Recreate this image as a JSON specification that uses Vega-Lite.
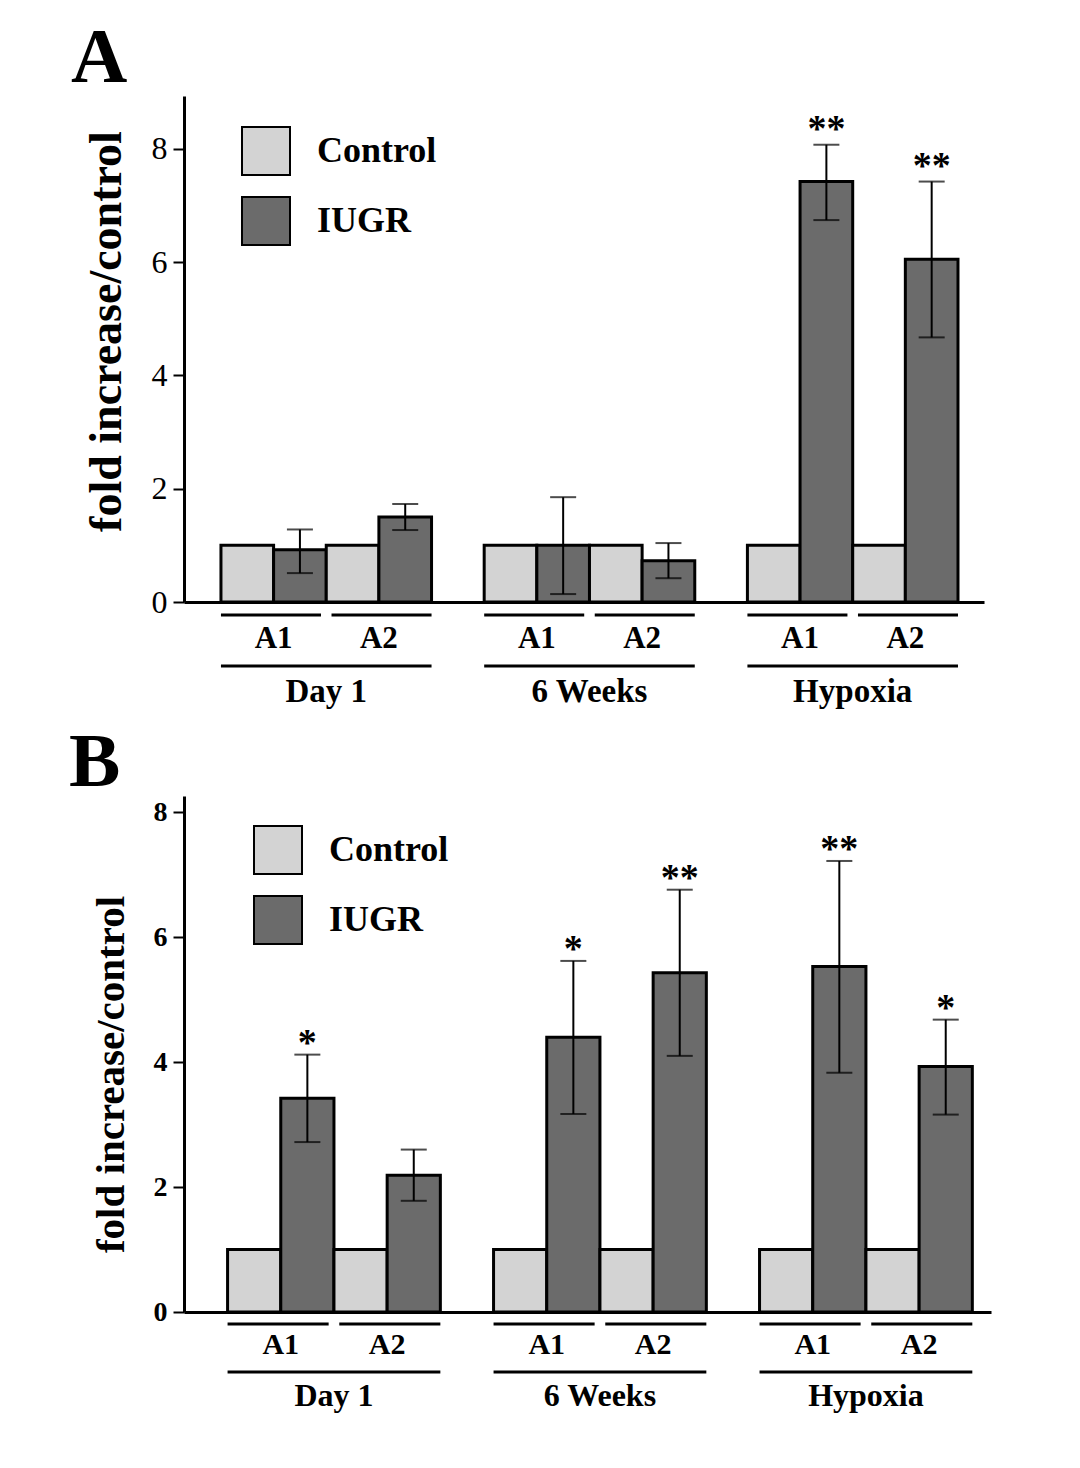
{
  "$schema": "https://vega.github.io/schema/vega-lite/v6.json",
  "background": "white",
  "padding": {"left": 69, "top": 20, "right": 10, "bottom": 10},
  "config": {"view": {"stroke": null}, "font": "Liberation Serif"},
  "spacing": 0,
  "bounds": "flush",
  "resolve": {"scale": {"fill": "independent"}, "legend": {"fill": "independent"}},
  "datasets": {
    "panelA": [
      {"key": "D1A1C", "group": "Control", "value": 1.0},
      {"key": "D1A1I", "group": "IUGR", "value": 0.92, "lo": 0.51, "hi": 1.28},
      {"key": "D1A2C", "group": "Control", "value": 1.0},
      {"key": "D1A2I", "group": "IUGR", "value": 1.5, "lo": 1.27, "hi": 1.73},
      {"key": "W6A1C", "group": "Control", "value": 1.0},
      {"key": "W6A1I", "group": "IUGR", "value": 1.0, "lo": 0.14, "hi": 1.85},
      {"key": "W6A2C", "group": "Control", "value": 1.0},
      {"key": "W6A2I", "group": "IUGR", "value": 0.73, "lo": 0.42, "hi": 1.04},
      {"key": "HA1C", "group": "Control", "value": 1.0},
      {"key": "HA1I", "group": "IUGR", "value": 7.42, "lo": 6.74, "hi": 8.07, "sig": "**"},
      {"key": "HA2C", "group": "Control", "value": 1.0},
      {"key": "HA2I", "group": "IUGR", "value": 6.05, "lo": 4.67, "hi": 7.42, "sig": "**"}
    ],
    "panelB": [
      {"key": "D1A1C", "group": "Control", "value": 1.0},
      {"key": "D1A1I", "group": "IUGR", "value": 3.42, "lo": 2.72, "hi": 4.12, "sig": "*"},
      {"key": "D1A2C", "group": "Control", "value": 1.0},
      {"key": "D1A2I", "group": "IUGR", "value": 2.19, "lo": 1.78, "hi": 2.6},
      {"key": "W6A1C", "group": "Control", "value": 1.0},
      {"key": "W6A1I", "group": "IUGR", "value": 4.4, "lo": 3.17, "hi": 5.62, "sig": "*"},
      {"key": "W6A2C", "group": "Control", "value": 1.0},
      {"key": "W6A2I", "group": "IUGR", "value": 5.43, "lo": 4.1, "hi": 6.76, "sig": "**"},
      {"key": "HA1C", "group": "Control", "value": 1.0},
      {"key": "HA1I", "group": "IUGR", "value": 5.53, "lo": 3.83, "hi": 7.22, "sig": "**"},
      {"key": "HA2C", "group": "Control", "value": 1.0},
      {"key": "HA2I", "group": "IUGR", "value": 3.93, "lo": 3.16, "hi": 4.68, "sig": "*"}
    ],
    "annot": [
      {"level": "subline", "sub": "A1", "from": "D1A1C", "to": "D1A1I"},
      {"level": "subline", "sub": "A2", "from": "D1A2C", "to": "D1A2I"},
      {"level": "subline", "sub": "A1", "from": "W6A1C", "to": "W6A1I"},
      {"level": "subline", "sub": "A2", "from": "W6A2C", "to": "W6A2I"},
      {"level": "subline", "sub": "A1", "from": "HA1C", "to": "HA1I"},
      {"level": "subline", "sub": "A2", "from": "HA2C", "to": "HA2I"},
      {"level": "groupline", "from": "D1A1C", "to": "D1A2I"},
      {"level": "groupline", "from": "W6A1C", "to": "W6A2I"},
      {"level": "groupline", "from": "HA1C", "to": "HA2I"},
      {"level": "sublabel", "at": "D1A1I", "text": "A1"},
      {"level": "sublabel", "at": "D1A2I", "text": "A2"},
      {"level": "sublabel", "at": "W6A1I", "text": "A1"},
      {"level": "sublabel", "at": "W6A2I", "text": "A2"},
      {"level": "sublabel", "at": "HA1I", "text": "A1"},
      {"level": "sublabel", "at": "HA2I", "text": "A2"},
      {"level": "grouplabel", "at": "D1A2C", "text": "Day 1"},
      {"level": "grouplabel", "at": "W6A2C", "text": "6 Weeks"},
      {"level": "grouplabel", "at": "HA2C", "text": "Hypoxia"}
    ]
  },
  "vconcat": [
    {
      "width": 800, "height": 506,
      "title": {"text": "A", "fontSize": 78, "font": "Liberation Serif", "fontWeight": "bold", "anchor": "start", "frame": "group", "dx": -113, "offset": -64, "baseline": "alphabetic", "color": "black"},
      "data": {"name": "panelA"},
      "encoding": {
        "x": {"field": "key", "type": "nominal", "sort": null,
          "scale": {"domain": ["D1A1C","D1A1I","D1A2C","D1A2I","G1","W6A1C","W6A1I","W6A2C","W6A2I","G2","HA1C","HA1I","HA2C","HA2I"], "paddingInner": 0, "paddingOuter": 0.598, "align": 0.587},
          "axis": {"labels": false, "ticks": false, "title": null, "domainColor": "black", "domainWidth": 3, "minExtent": 0, "maxExtent": 0}}
      },
      "layer": [
        {"mark": {"type": "bar", "stroke": "black", "strokeWidth": 3},
         "encoding": {
           "y": {"field": "value", "type": "quantitative", "title": "fold increase/control",
             "scale": {"domain": [0, 8.93], "nice": false},
             "axis": {"values": [0, 2, 4, 6, 8], "format": "d", "grid": false, "titleFont": "Liberation Serif", "titleFontWeight": "bold", "titleFontSize": 46, "titleColor": "black", "titlePadding": 21, "titleY": 235, "labelFont": "Liberation Serif", "labelFontSize": 32, "labelFontWeight": "normal", "labelColor": "black", "labelPadding": 6, "tickSize": 11, "tickWidth": 2, "tickColor": "black", "domainColor": "black", "domainWidth": 3}},
           "fill": {"field": "group", "type": "nominal",
             "scale": {"domain": ["Control", "IUGR"], "range": ["#d3d3d3", "#6b6b6b"]},
             "legend": {"title": null, "orient": "none", "legendX": 57, "legendY": 30, "padding": 0, "symbolType": "square", "symbolSize": 2304, "symbolStrokeColor": "black", "symbolStrokeWidth": 2, "symbolOpacity": 1, "labelFont": "Liberation Serif", "labelFontSize": 36, "labelFontWeight": "bold", "labelColor": "black", "labelOffset": 26, "rowPadding": 14}}
         }},
        {"transform": [{"filter": "isValid(datum.hi)"}],
         "mark": {"type": "rule", "strokeWidth": 2, "color": "black"},
         "encoding": {"y": {"field": "lo", "type": "quantitative", "title": "fold increase/control"}, "y2": {"field": "hi"}}},
        {"transform": [{"filter": "isValid(datum.hi)"}],
         "mark": {"type": "tick", "size": 26, "thickness": 2, "color": "black", "orient": "horizontal"},
         "encoding": {"y": {"field": "lo", "type": "quantitative", "title": "fold increase/control"}}},
        {"transform": [{"filter": "isValid(datum.hi)"}],
         "mark": {"type": "tick", "size": 26, "thickness": 2, "color": "black", "orient": "horizontal"},
         "encoding": {"y": {"field": "hi", "type": "quantitative", "title": "fold increase/control"}}},
        {"transform": [{"filter": "isValid(datum.sig)"}],
         "mark": {"type": "text", "font": "Liberation Serif", "fontSize": 38, "fontWeight": "bold", "baseline": "alphabetic", "align": "center", "dy": -4, "color": "black"},
         "encoding": {"y": {"field": "hi", "type": "quantitative", "title": "fold increase/control"}, "text": {"field": "sig"}}}
      ]
    },
    {
      "width": 800, "height": 194,
      "data": {"name": "annot"},
      "encoding": {
        "y": {"field": "level", "type": "nominal", "scale": {"type": "point", "domain": ["subline", "sublabel", "groupline", "grouplabel", "s1", "s2", "s3", "s4"], "padding": 0.3, "align": 0.85}, "axis": null}
      },
      "layer": [
        {"transform": [{"filter": "datum.level == 'subline' && datum.sub == 'A1'"}],
         "mark": {"type": "rule", "strokeWidth": 3, "color": "black"},
         "encoding": {"x": {"field": "from", "type": "nominal", "bandPosition": 0, "scale": {"domain": ["D1A1C","D1A1I","D1A2C","D1A2I","G1","W6A1C","W6A1I","W6A2C","W6A2I","G2","HA1C","HA1I","HA2C","HA2I"], "paddingInner": 0, "paddingOuter": 0.598, "align": 0.587}, "axis": null},
           "x2": {"field": "to", "bandPosition": 0.9}}},
        {"transform": [{"filter": "datum.level == 'subline' && datum.sub == 'A2'"}],
         "mark": {"type": "rule", "strokeWidth": 3, "color": "black"},
         "encoding": {"x": {"field": "from", "type": "nominal", "bandPosition": 0.1, "scale": {"domain": ["D1A1C","D1A1I","D1A2C","D1A2I","G1","W6A1C","W6A1I","W6A2C","W6A2I","G2","HA1C","HA1I","HA2C","HA2I"], "paddingInner": 0, "paddingOuter": 0.598, "align": 0.587}, "axis": null},
           "x2": {"field": "to", "bandPosition": 1}}},
        {"transform": [{"filter": "datum.level == 'groupline'"}],
         "mark": {"type": "rule", "strokeWidth": 3, "color": "black"},
         "encoding": {"x": {"field": "from", "type": "nominal", "bandPosition": 0, "scale": {"domain": ["D1A1C","D1A1I","D1A2C","D1A2I","G1","W6A1C","W6A1I","W6A2C","W6A2I","G2","HA1C","HA1I","HA2C","HA2I"], "paddingInner": 0, "paddingOuter": 0.598, "align": 0.587}, "axis": null},
           "x2": {"field": "to", "bandPosition": 1}}},
        {"transform": [{"filter": "datum.level == 'sublabel'"}],
         "mark": {"type": "text", "font": "Liberation Serif", "fontSize": 31, "fontWeight": "bold", "baseline": "middle", "align": "center", "color": "black", "dy": -2},
         "encoding": {"x": {"field": "at", "type": "nominal", "bandPosition": 0, "scale": {"domain": ["D1A1C","D1A1I","D1A2C","D1A2I","G1","W6A1C","W6A1I","W6A2C","W6A2I","G2","HA1C","HA1I","HA2C","HA2I"], "paddingInner": 0, "paddingOuter": 0.598, "align": 0.587}, "axis": null},
           "text": {"field": "text"}}},
        {"transform": [{"filter": "datum.level == 'grouplabel'"}],
         "mark": {"type": "text", "font": "Liberation Serif", "fontSize": 33, "fontWeight": "bold", "baseline": "middle", "align": "center", "color": "black"},
         "encoding": {"x": {"field": "at", "type": "nominal", "bandPosition": 0, "scale": {"domain": ["D1A1C","D1A1I","D1A2C","D1A2I","G1","W6A1C","W6A1I","W6A2C","W6A2I","G2","HA1C","HA1I","HA2C","HA2I"], "paddingInner": 0, "paddingOuter": 0.598, "align": 0.587}, "axis": null},
           "text": {"field": "text"}}}
      ]
    },
    {
      "width": 807, "height": 516,
      "title": {"text": "B", "fontSize": 77, "font": "Liberation Serif", "fontWeight": "bold", "anchor": "start", "frame": "group", "dx": -115, "offset": -67, "baseline": "alphabetic", "color": "black"},
      "data": {"name": "panelB"},
      "encoding": {
        "x": {"field": "key", "type": "nominal", "sort": null,
          "scale": {"domain": ["D1A1C","D1A1I","D1A2C","D1A2I","G1","W6A1C","W6A1I","W6A2C","W6A2I","G2","HA1C","HA1I","HA2C","HA2I"], "paddingInner": 0, "paddingOuter": 0.585, "align": 0.7},
          "axis": {"labels": false, "ticks": false, "title": null, "domainColor": "black", "domainWidth": 3, "minExtent": 0, "maxExtent": 0}}
      },
      "layer": [
        {"mark": {"type": "bar", "stroke": "black", "strokeWidth": 3},
         "encoding": {
           "y": {"field": "value", "type": "quantitative", "title": "fold increase/control",
             "scale": {"domain": [0, 8.26], "nice": false},
             "axis": {"values": [0, 2, 4, 6, 8], "format": "d", "grid": false, "titleFont": "Liberation Serif", "titleFontWeight": "bold", "titleFontSize": 41, "titleColor": "black", "titlePadding": 21, "titleY": 278, "labelFont": "Liberation Serif", "labelFontSize": 28, "labelFontWeight": "bold", "labelColor": "black", "labelPadding": 6, "tickSize": 11, "tickWidth": 2, "tickColor": "black", "domainColor": "black", "domainWidth": 3}},
           "fill": {"field": "group", "type": "nominal",
             "scale": {"domain": ["Control", "IUGR"], "range": ["#d3d3d3", "#6b6b6b"]},
             "legend": {"title": null, "orient": "none", "legendX": 69, "legendY": 29, "padding": 0, "symbolType": "square", "symbolSize": 2304, "symbolStrokeColor": "black", "symbolStrokeWidth": 2, "symbolOpacity": 1, "labelFont": "Liberation Serif", "labelFontSize": 36, "labelFontWeight": "bold", "labelColor": "black", "labelOffset": 26, "rowPadding": 14}}
         }},
        {"transform": [{"filter": "isValid(datum.hi)"}],
         "mark": {"type": "rule", "strokeWidth": 2, "color": "black"},
         "encoding": {"y": {"field": "lo", "type": "quantitative", "title": "fold increase/control"}, "y2": {"field": "hi"}}},
        {"transform": [{"filter": "isValid(datum.hi)"}],
         "mark": {"type": "tick", "size": 26, "thickness": 2, "color": "black", "orient": "horizontal"},
         "encoding": {"y": {"field": "lo", "type": "quantitative", "title": "fold increase/control"}}},
        {"transform": [{"filter": "isValid(datum.hi)"}],
         "mark": {"type": "tick", "size": 26, "thickness": 2, "color": "black", "orient": "horizontal"},
         "encoding": {"y": {"field": "hi", "type": "quantitative", "title": "fold increase/control"}}},
        {"transform": [{"filter": "isValid(datum.sig)"}],
         "mark": {"type": "text", "font": "Liberation Serif", "fontSize": 38, "fontWeight": "bold", "baseline": "alphabetic", "align": "center", "dy": 0, "color": "black"},
         "encoding": {"y": {"field": "hi", "type": "quantitative", "title": "fold increase/control"}, "text": {"field": "sig"}}}
      ]
    },
    {
      "width": 807, "height": 96,
      "data": {"name": "annot"},
      "encoding": {
        "y": {"field": "level", "type": "nominal", "scale": {"type": "point", "domain": ["subline", "sublabel", "groupline", "grouplabel"], "padding": 0.5}, "axis": null}
      },
      "layer": [
        {"transform": [{"filter": "datum.level == 'subline' && datum.sub == 'A1'"}],
         "mark": {"type": "rule", "strokeWidth": 3, "color": "black"},
         "encoding": {"x": {"field": "from", "type": "nominal", "bandPosition": 0, "scale": {"domain": ["D1A1C","D1A1I","D1A2C","D1A2I","G1","W6A1C","W6A1I","W6A2C","W6A2I","G2","HA1C","HA1I","HA2C","HA2I"], "paddingInner": 0, "paddingOuter": 0.585, "align": 0.7}, "axis": null},
           "x2": {"field": "to", "bandPosition": 0.9}}},
        {"transform": [{"filter": "datum.level == 'subline' && datum.sub == 'A2'"}],
         "mark": {"type": "rule", "strokeWidth": 3, "color": "black"},
         "encoding": {"x": {"field": "from", "type": "nominal", "bandPosition": 0.1, "scale": {"domain": ["D1A1C","D1A1I","D1A2C","D1A2I","G1","W6A1C","W6A1I","W6A2C","W6A2I","G2","HA1C","HA1I","HA2C","HA2I"], "paddingInner": 0, "paddingOuter": 0.585, "align": 0.7}, "axis": null},
           "x2": {"field": "to", "bandPosition": 1}}},
        {"transform": [{"filter": "datum.level == 'groupline'"}],
         "mark": {"type": "rule", "strokeWidth": 3, "color": "black"},
         "encoding": {"x": {"field": "from", "type": "nominal", "bandPosition": 0, "scale": {"domain": ["D1A1C","D1A1I","D1A2C","D1A2I","G1","W6A1C","W6A1I","W6A2C","W6A2I","G2","HA1C","HA1I","HA2C","HA2I"], "paddingInner": 0, "paddingOuter": 0.585, "align": 0.7}, "axis": null},
           "x2": {"field": "to", "bandPosition": 1}}},
        {"transform": [{"filter": "datum.level == 'sublabel'"}],
         "mark": {"type": "text", "font": "Liberation Serif", "fontSize": 30, "fontWeight": "bold", "baseline": "middle", "align": "center", "color": "black", "dy": -3},
         "encoding": {"x": {"field": "at", "type": "nominal", "bandPosition": 0, "scale": {"domain": ["D1A1C","D1A1I","D1A2C","D1A2I","G1","W6A1C","W6A1I","W6A2C","W6A2I","G2","HA1C","HA1I","HA2C","HA2I"], "paddingInner": 0, "paddingOuter": 0.585, "align": 0.7}, "axis": null},
           "text": {"field": "text"}}},
        {"transform": [{"filter": "datum.level == 'grouplabel'"}],
         "mark": {"type": "text", "font": "Liberation Serif", "fontSize": 32, "fontWeight": "bold", "baseline": "middle", "align": "center", "color": "black"},
         "encoding": {"x": {"field": "at", "type": "nominal", "bandPosition": 0, "scale": {"domain": ["D1A1C","D1A1I","D1A2C","D1A2I","G1","W6A1C","W6A1I","W6A2C","W6A2I","G2","HA1C","HA1I","HA2C","HA2I"], "paddingInner": 0, "paddingOuter": 0.585, "align": 0.7}, "axis": null},
           "text": {"field": "text"}}}
      ]
    }
  ]
}
